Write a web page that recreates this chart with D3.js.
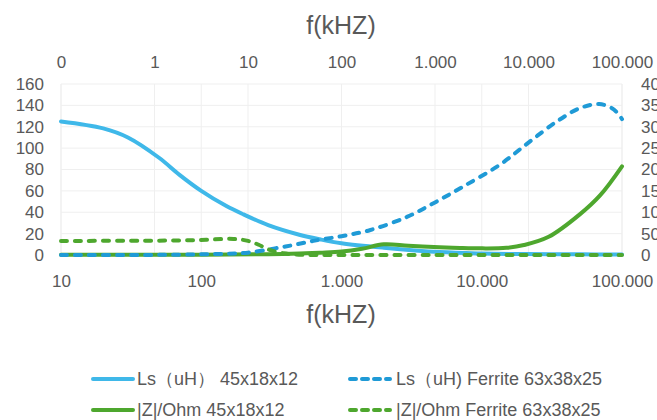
<!DOCTYPE html>
<html>
<head>
<meta charset="utf-8">
<script src="https://cdn.jsdelivr.net/npm/d3@7"></script>
<style>
body { margin: 0; background: #fff; }
text { font-family: "Liberation Sans", Arial, sans-serif; fill: #595959; }
</style>
</head>
<body>
<svg id="chart" width="657" height="420"></svg>
<script>
// Ls (uH) 45x18x12 - bottom axis (kHz), left axis
var lsSmallFreq = [10, 20, 30, 50, 70, 100, 150, 200, 300, 500, 700, 1000, 2000, 5000, 10000, 20000, 50000, 100000]
var lsSmallVal  = [125, 118.5, 110, 91, 75, 60, 46, 38, 28, 19, 14.7, 11, 6.8, 2.7, 1.4, 0.9, 0.6, 0.5]

// |Z|/Ohm 45x18x12 - bottom axis, left axis
var zSmallFreq = [10, 100, 300, 500, 700, 1000, 1400, 2000, 3000, 5000, 7000, 10000, 15000, 20000, 30000, 50000, 70000, 100000]
var zSmallVal  = [0.2, 0.3, 0.8, 1.5, 2.2, 3.2, 5.8, 10, 8.7, 7.3, 6.6, 6.2, 6.7, 9.3, 17, 38, 56, 83]

// Ls (uH) Ferrite 63x38x25 - top axis, right axis
var lsFerFreq = [0.1, 1, 3, 6, 10, 20, 30, 50, 100, 200, 500, 1000, 2000, 5000, 10000, 20000, 35000, 57000, 80000, 100000]
var lsFerVal  = [0, 0.3, 1.5, 3, 5.5, 16, 23, 33, 44, 58, 89, 123, 160, 212, 263, 312, 343, 353, 342, 318]

// |Z|/Ohm Ferrite 63x38x25 - top axis, right axis
var zFerFreq = [0.1, 1, 3, 7, 10, 13, 17, 24, 35, 100, 1000, 10000, 100000]
var zFerVal  = [33, 33.5, 35, 37.5, 33, 24, 12, 4, 0.8, 0, 0, 0, 0]

var bottomTicks = [10, 100, 1000, 10000, 100000]
var bottomLabels = ["10", "100", "1.000", "10.000", "100.000"]
var topTicks = [0.1, 1, 10, 100, 1000, 10000, 100000]
var topLabels = ["0", "1", "10", "100", "1.000", "10.000", "100.000"]
var leftTicks = [0, 20, 40, 60, 80, 100, 120, 140, 160]
var rightTicks = [0, 50, 100, 150, 200, 250, 300, 350, 400]

var seriesNames = ["Ls\uff08uH\uff09 45x18x12", "Ls\uff08uH) Ferrite 63x38x25", "|Z|/Ohm 45x18x12", "|Z|/Ohm Ferrite 63x38x25"]

var blue = "#3fb8e9", blueDark = "#1f9ad6", green = "#4ea72e"

var svg = d3.select("#chart")
var pL = 61, pR = 622, pT = 84, pB = 255

var xBottom = d3.scaleLog().domain([10, 100000]).range([pL, pR])
var xTop = d3.scaleLog().domain([0.1, 100000]).range([pL, pR])
var yLeft = d3.scaleLinear().domain([0, 160]).range([pB, pT])
var yRight = d3.scaleLinear().domain([0, 400]).range([pB, pT])

// gridlines
var grid = svg.append("g")
grid.selectAll("line.h").data(leftTicks).enter().append("line")
    .attr("x1", pL).attr("x2", pR)
    .attr("y1", d => yLeft(d)).attr("y2", d => yLeft(d))
    .attr("stroke", "#efefef").attr("stroke-width", 1)
grid.selectAll("line.vb").data(bottomTicks).enter().append("line")
    .attr("x1", d => xBottom(d)).attr("x2", d => xBottom(d))
    .attr("y1", pT).attr("y2", pB)
    .attr("stroke", "#efefef").attr("stroke-width", 1)
grid.selectAll("line.vt").data(topTicks).enter().append("line")
    .attr("x1", d => xTop(d)).attr("x2", d => xTop(d))
    .attr("y1", pT).attr("y2", pB)
    .attr("stroke", "#efefef").attr("stroke-width", 1)

// axes
var axB = svg.append("g").attr("transform", "translate(0," + (pB + 26) + ")")
    .call(d3.axisBottom(xBottom).tickValues(bottomTicks).tickFormat((d, i) => bottomLabels[i]).tickSize(0))
var axT = svg.append("g").attr("transform", "translate(0," + (pT - 22) + ")")
    .call(d3.axisTop(xTop).tickValues(topTicks).tickFormat((d, i) => topLabels[i]).tickSize(0))
var axL = svg.append("g").attr("transform", "translate(" + (pL - 17) + ",0)")
    .call(d3.axisLeft(yLeft).tickValues(leftTicks).tickSize(0))
var axR = svg.append("g").attr("transform", "translate(" + (pR + 19) + ",0)")
    .call(d3.axisRight(yRight).tickValues(rightTicks).tickSize(0))
axR.selectAll("text").attr("x", 0)
axL.selectAll("text").attr("x", 0)
svg.selectAll(".domain").remove()
svg.selectAll(".tick text").style("font-size", "17px").attr("fill", "#595959")
    .style("font-family", "'Liberation Sans', Arial, sans-serif")
axB.selectAll("text").attr("dy", "0.35em").attr("y", 0)
axT.selectAll("text").attr("dy", "0.35em").attr("y", 0)

// titles
svg.append("text").attr("x", 341).attr("y", 25).attr("text-anchor", "middle")
    .attr("dominant-baseline", "central").style("font-size", "25px").text("f(kHZ)")
svg.append("text").attr("x", 341).attr("y", 314).attr("text-anchor", "middle")
    .attr("dominant-baseline", "central").style("font-size", "25px").text("f(kHZ)")

// lines
var lineB = d3.line().x(d => xBottom(d[0])).y(d => yLeft(d[1])).curve(d3.curveCatmullRom.alpha(0.5))
var lineT = d3.line().x(d => xTop(d[0])).y(d => yRight(d[1])).curve(d3.curveCatmullRom.alpha(0.5))

svg.append("path").datum(d3.zip(lsSmallFreq, lsSmallVal)).attr("d", lineB)
    .attr("fill", "none").attr("stroke", blue).attr("stroke-width", 4).attr("stroke-linecap", "round")
svg.append("path").datum(d3.zip(zSmallFreq, zSmallVal)).attr("d", lineB)
    .attr("fill", "none").attr("stroke", green).attr("stroke-width", 4).attr("stroke-linecap", "round")
svg.append("path").datum(d3.zip(lsFerFreq, lsFerVal)).attr("d", lineT)
    .attr("fill", "none").attr("stroke", blueDark).attr("stroke-width", 4)
    .attr("stroke-dasharray", "6,8").attr("stroke-linecap", "round")
svg.append("path").datum(d3.zip(zFerFreq, zFerVal)).attr("d", lineT)
    .attr("fill", "none").attr("stroke", green).attr("stroke-width", 4)
    .attr("stroke-dasharray", "6,8").attr("stroke-linecap", "round")

// legend
var legend = [
    {name: seriesNames[0], color: blue, dash: null, x: 91, y: 379},
    {name: seriesNames[1], color: blueDark, dash: "6,6", x: 348, y: 379},
    {name: seriesNames[2], color: green, dash: null, x: 91, y: 410},
    {name: seriesNames[3], color: green, dash: "6,6", x: 348, y: 410}
]
var lg = svg.selectAll("g.leg").data(legend).enter().append("g")
lg.append("line")
    .attr("x1", d => d.x + 2).attr("x2", d => d.x + 42)
    .attr("y1", d => d.y).attr("y2", d => d.y)
    .attr("stroke", d => d.color).attr("stroke-width", 4)
    .attr("stroke-linecap", "round")
    .attr("stroke-dasharray", d => d.dash)
lg.append("text").attr("x", d => d.dash ? d.x + 48 : d.x + 46).attr("y", d => d.y)
    .attr("dominant-baseline", "central").style("font-size", "18px")
    .text(d => d.name)
</script>
</body>
</html>
